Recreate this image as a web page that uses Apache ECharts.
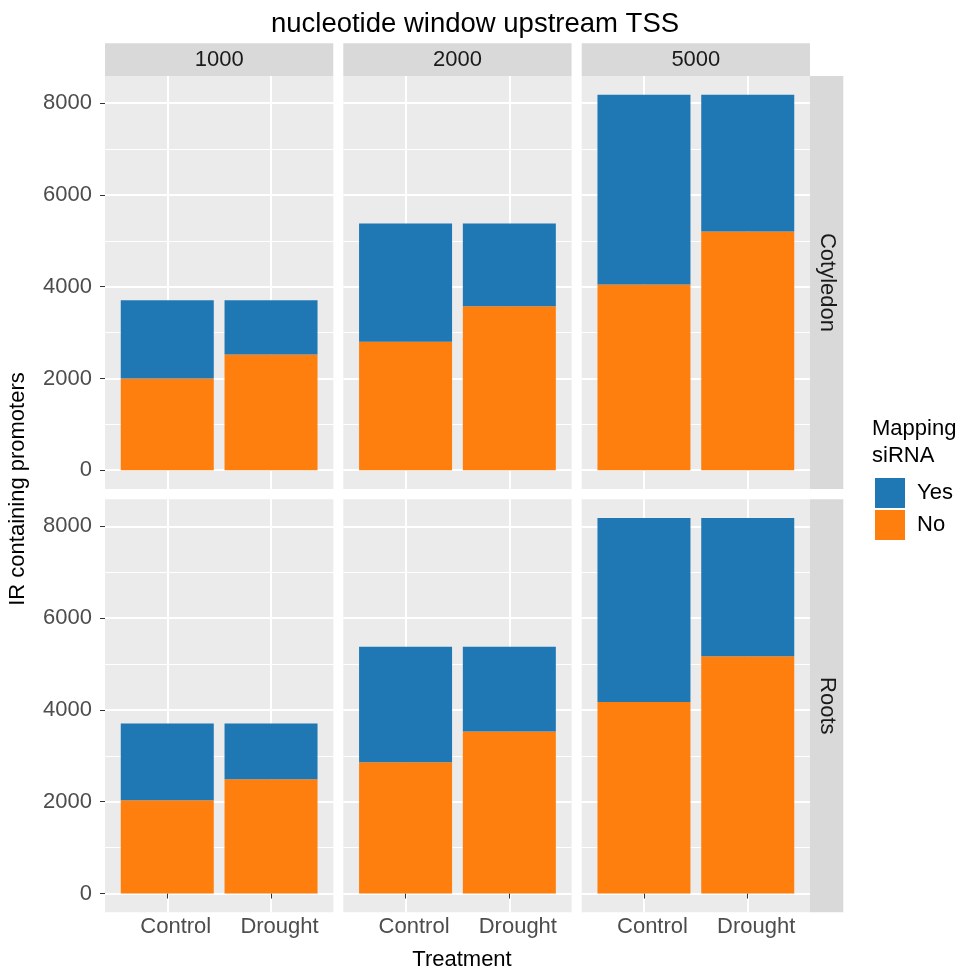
<!DOCTYPE html>
<html>
<head>
<meta charset="utf-8">
<script src="https://cdn.jsdelivr.net/npm/echarts@6/dist/echarts.min.js"></script>
<style>
html, body { margin: 0; padding: 0; background: #fff; }
#chart { width: 961px; height: 971px; }
</style>
</head>
<body>
<div id="chart"></div>
<script>
const windows = ['1000', '2000', '5000'];
const tissues = ['Cotyledon', 'Roots'];
const treatments = ['Control', 'Drought'];
const yTicks = [0, 2000, 4000, 6000, 8000];
const yMinor = [1000, 3000, 5000, 7000];

// values per window, [Control, Drought]
const cotyledonNo = [[1998, 2521], [2797, 3573], [4046, 5200]];
const cotyledonYes = [[1706, 1183], [2578, 1802], [4134, 2980]];
const rootsNo = [[2035, 2492], [2861, 3530], [4176, 5172]];
const rootsYes = [[1669, 1212], [2514, 1845], [4004, 3008]];

const noData = [cotyledonNo, rootsNo];
const yesData = [cotyledonYes, rootsYes];

const font = '"Liberation Sans", Arial, Helvetica, sans-serif';
const panelLeft = [105, 343.3, 581.7], panelW = 228.3;
const panelTop = [76, 499.3], panelH = 413;

let grids = [], xAxes = [], yAxes = [], minorAxes = [], series = [], graphics = [];

tissues.forEach(function (tissue, r) {
    windows.forEach(function (w, c) {
        const i = r * 3 + c;
        grids.push({
            left: panelLeft[c], top: panelTop[r], width: panelW, height: panelH,
            show: true, backgroundColor: '#EBEBEB', borderWidth: 0
        });
        xAxes.push({
            type: 'value', gridIndex: i, min: 0.4, max: 2.6,
            axisLine: { show: false },
            axisTick: { show: r == 1, customValues: [1, 2], length: 5, lineStyle: { color: '#333333', width: 1 } },
            axisLabel: {
                show: r == 1, customValues: [1, 2], margin: 4, padding: [0, 0, 0, 17],
                formatter: function (v) { return treatments[Math.round(v) - 1]; },
                fontSize: 22, color: '#4D4D4D', fontFamily: font
            },
            splitLine: { show: true, lineStyle: { color: '#FFFFFF', width: 2 } }
        });
        yAxes.push({
            type: 'value', gridIndex: i, min: -409, max: 8590,
            axisLine: { show: false },
            axisTick: { show: c == 0, customValues: yTicks, length: 5, lineStyle: { color: '#333333', width: 1 } },
            axisLabel: {
                show: c == 0, customValues: yTicks, margin: 13,
                formatter: function (v) { return String(v); },
                fontSize: 22, color: '#4D4D4D', fontFamily: font
            },
            splitLine: { show: true, lineStyle: { color: '#FFFFFF', width: 2 } }
        });
        minorAxes.push({
            type: 'value', gridIndex: i, min: -409, max: 8590, position: 'left',
            axisLine: { show: false },
            axisTick: { show: false, customValues: yMinor },
            axisLabel: { show: false, customValues: yMinor },
            splitLine: { show: true, lineStyle: { color: '#FFFFFF', width: 1 } }
        });
        // value first, treatment position second, so the stack runs along y
        series.push({
            name: 'No', type: 'bar', stack: 'p' + i, xAxisIndex: i, yAxisIndex: i,
            encode: { x: 1, y: 0 },
            barWidth: 93, itemStyle: { color: '#FF7F0E' },
            data: noData[r][c].map(function (v, k) { return [v, k + 1]; })
        });
        series.push({
            name: 'Yes', type: 'bar', stack: 'p' + i, xAxisIndex: i, yAxisIndex: i,
            encode: { x: 1, y: 0 },
            barWidth: 93, itemStyle: { color: '#1F77B4' },
            data: yesData[r][c].map(function (v, k) { return [v, k + 1]; })
        });
    });
});

// facet strips
windows.forEach(function (w, c) {
    graphics.push({ type: 'rect', shape: { x: panelLeft[c], y: 43.3, width: panelW, height: 32.7 }, style: { fill: '#D9D9D9' } });
    graphics.push({ type: 'text', style: { x: panelLeft[c] + panelW / 2, y: 60, text: w, textAlign: 'center', textVerticalAlign: 'middle', fontSize: 22, fill: '#1A1A1A', fontFamily: font } });
});
tissues.forEach(function (t, r) {
    graphics.push({ type: 'rect', shape: { x: 810, y: panelTop[r], width: 33.3, height: panelH }, style: { fill: '#D9D9D9' } });
    graphics.push({ type: 'text', x: 826.7, y: panelTop[r] + panelH / 2, rotation: -Math.PI / 2, style: { x: 0, y: 0, text: t, textAlign: 'center', textVerticalAlign: 'middle', fontSize: 22, fill: '#1A1A1A', fontFamily: font } });
});

graphics.push({ type: 'text', style: { x: 475, y: 24, text: 'nucleotide window upstream TSS', textAlign: 'center', textVerticalAlign: 'middle', fontSize: 27.5, fill: '#000', fontFamily: font } });
graphics.push({ type: 'text', style: { x: 462, y: 960, text: 'Treatment', textAlign: 'center', textVerticalAlign: 'middle', fontSize: 22, fill: '#000', fontFamily: font } });
graphics.push({ type: 'text', x: 18, y: 489, rotation: Math.PI / 2, style: { x: 0, y: 0, text: 'IR containing promoters', textAlign: 'center', textVerticalAlign: 'middle', fontSize: 22, fill: '#000', fontFamily: font } });
graphics.push({ type: 'text', style: { x: 872, y: 415, text: 'Mapping\nsiRNA', textAlign: 'left', textVerticalAlign: 'top', fontSize: 22, lineHeight: 27, fill: '#000', fontFamily: font } });

const option = {
    animation: false,
    backgroundColor: '#FFFFFF',
    grid: grids,
    xAxis: xAxes,
    yAxis: yAxes.concat(minorAxes),
    series: series,
    legend: {
        data: ['Yes', 'No'], orient: 'vertical', left: 875, top: 478, padding: 0,
        itemWidth: 30, itemHeight: 30, itemGap: 2, icon: 'rect',
        selectedMode: false,
        textStyle: { fontSize: 22, color: '#000', fontFamily: font, padding: [0, 0, 0, 7] }
    },
    graphic: graphics
};

const myChart = echarts.init(document.getElementById('chart'));
myChart.setOption(option);
</script>
</body>
</html>
